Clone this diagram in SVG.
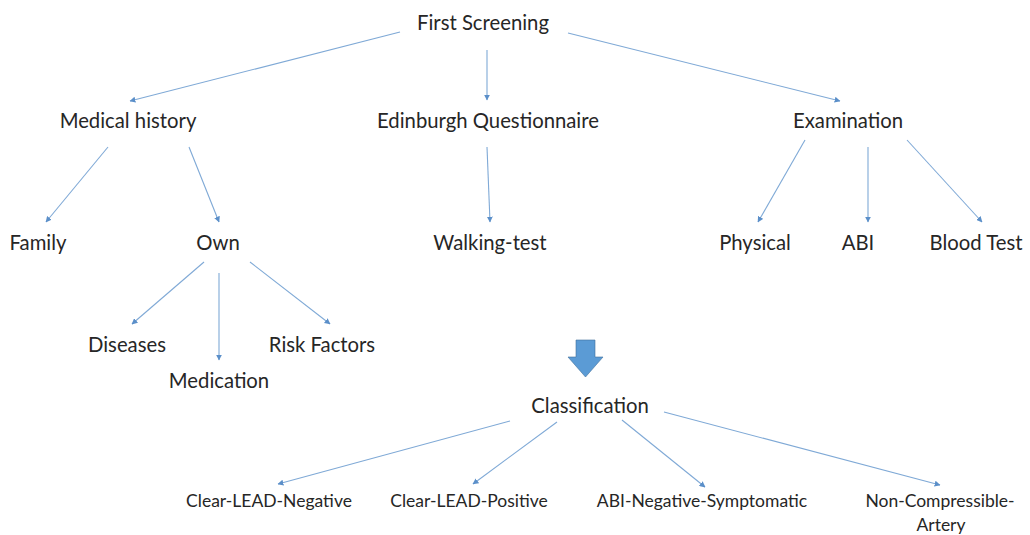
<svg xmlns="http://www.w3.org/2000/svg" width="1030" height="535" viewBox="0 0 1030 535">
<style>
text{font-family:Lato,"Open Sans","Liberation Sans",sans-serif;font-size:20.3px;fill:#262626;text-anchor:middle}
text.s{font-size:17.5px}
.c line{stroke:#7fa9d6;stroke-width:1.1;marker-end:url(#ah)}
</style>
<defs>
<marker id="ah" viewBox="0 0 10 10" refX="9" refY="5" markerWidth="6" markerHeight="6" markerUnits="userSpaceOnUse" orient="auto"><path d="M0,0L10,5L0,10z" fill="#5b8fc9"/></marker>
</defs>
<rect width="1030" height="535" fill="#fff"/>
<g class="c" id="connectors">
<line x1="400" y1="32" x2="130" y2="101"/>
<line x1="487" y1="50" x2="487" y2="100"/>
<line x1="568" y1="33" x2="840" y2="101"/>
<line x1="108" y1="147" x2="46" y2="222"/>
<line x1="189" y1="147" x2="219" y2="222"/>
<line x1="487" y1="147" x2="490" y2="222"/>
<line x1="805" y1="140" x2="758" y2="222"/>
<line x1="868" y1="147" x2="868" y2="222"/>
<line x1="907" y1="140" x2="982" y2="222"/>
<line x1="204" y1="262" x2="132" y2="324"/>
<line x1="219" y1="273" x2="219" y2="360"/>
<line x1="250" y1="262" x2="330" y2="324"/>
<line x1="510" y1="421" x2="278" y2="484"/>
<line x1="557" y1="422" x2="473" y2="484"/>
<line x1="622" y1="420" x2="705" y2="487"/>
<line x1="664" y1="412" x2="940" y2="485"/>
</g>
<g id="first-screening"><text x="483" y="30">First Screening</text></g>
<g id="medical-history"><text x="128" y="128">Medical history</text></g>
<g id="edinburgh"><text x="488" y="128">Edinburgh Questionnaire</text></g>
<g id="examination"><text x="848" y="128">Examination</text></g>
<g id="family"><text x="38" y="250">Family</text></g>
<g id="own"><text x="218" y="250">Own</text></g>
<g id="walking-test"><text x="490" y="250">Walking-test</text></g>
<g id="physical"><text x="755" y="250">Physical</text></g>
<g id="abi"><text x="858" y="250">ABI</text></g>
<g id="blood-test"><text x="976" y="250">Blood Test</text></g>
<g id="diseases"><text x="127" y="352">Diseases</text></g>
<g id="risk-factors"><text x="322" y="352">Risk Factors</text></g>
<g id="medication"><text x="219" y="388">Medication</text></g>
<g id="block-arrow"><path d="M576,340H595V357H603L585.5,377L568,357H576Z" fill="#5b9bd5" stroke="#41719c" stroke-width="0.6"/></g>
<g id="classification"><text x="590" y="413">Classification</text></g>
<g id="clear-lead-negative"><text class="s" x="269" y="507">Clear-LEAD-Negative</text></g>
<g id="clear-lead-positive"><text class="s" x="469" y="507">Clear-LEAD-Positive</text></g>
<g id="abi-negative-symptomatic"><text class="s" x="702" y="507">ABI-Negative-Symptomatic</text></g>
<g id="non-compressible-artery"><text class="s" x="940" y="507">Non-Compressible-</text><text class="s" x="941" y="531">Artery</text></g>
</svg>
